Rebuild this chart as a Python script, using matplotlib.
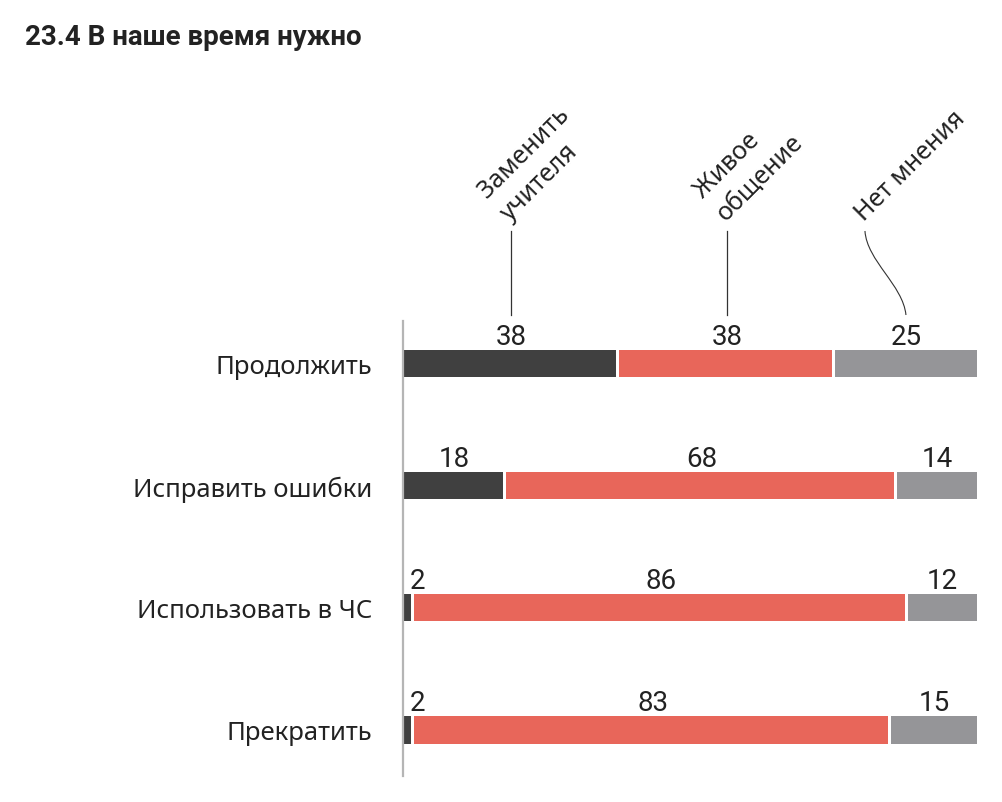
import matplotlib.pyplot as plt
import numpy as np
from matplotlib.path import Path
from matplotlib.patches import PathPatch
from matplotlib.transforms import blended_transform_factory

# data
rows = ["Продолжить", "Исправить ошибки", "Использовать в ЧС", "Прекратить"]
series = ["Заменить\nучителя", "Живое\nобщение", "Нет мнения"]
zamenit = [38, 18, 2, 2]
zhivoe = [38, 68, 86, 83]
net = [25, 14, 12, 15]
colors = ["#404040", "#e8665a", "#959598"]

title = "23.4 В наше время нужно"

W, H = 1003, 803
fig = plt.figure(figsize=(W / 100, H / 100), dpi=100)
# axes box in pixels: x 403..977, y 322..777
ax = fig.add_axes([403 / W, 1 - 777 / H, (977 - 403) / W, (777 - 322) / H])

label_font = ["Noto Sans", "DejaVu Sans"]
num_font = ["Roboto", "DejaVu Sans"]

vals = np.array([zamenit, zhivoe, net], dtype=float)
fracs = vals / vals.sum(axis=0)
y = np.arange(len(rows))
bar_h = 27 / 122
gap = 3 / 574

left = np.zeros(len(rows))
for k in range(len(series)):
    w = fracs[k]
    ax.barh(y, w - gap * (k < len(series) - 1), left=left, height=bar_h,
            color=colors[k], linewidth=0)
    for i in range(len(rows)):
        v = int(vals[k, i])
        if w[i] < 0.05:
            ax.text(left[i] + 0.011, y[i] - bar_h / 2 - 0.05, str(v),
                    ha="left", va="baseline", fontsize=20,
                    family=num_font, color="#222222")
        else:
            ax.text(left[i] + w[i] / 2, y[i] - bar_h / 2 - 0.05, str(v),
                    ha="center", va="baseline", fontsize=20,
                    family=num_font, color="#222222")
    left = left + w

ax.set_xlim(0, 1)
ax.set_ylim(3.377, -0.352)
ax.set_yticks(y)
ax.set_yticklabels(rows, family=label_font, fontsize=18.5, color="#222222")
ax.tick_params(axis="y", length=0, pad=22)
ax.set_xticks([])
for s in ["top", "right", "bottom"]:
    ax.spines[s].set_visible(False)
ax.spines["left"].set_color("#b5b5b5")
ax.spines["left"].set_linewidth(1.6)

# column headers with leader lines, placed over the first row
tr = blended_transform_factory(ax.transData, ax.transAxes)
py = lambda p: (777 - p) / 455
centers = np.cumsum(fracs[:, 0]) - fracs[:, 0] / 2
for k, name in enumerate(series):
    cx = centers[k]
    if k < 2:
        top_x = cx
        ax.plot([cx, cx], [py(232), py(316)], color="#333333", lw=0.9,
                transform=tr, clip_on=False)
    else:
        top_x = cx - 41 / 574
        verts = [(top_x, py(232)), (top_x + 2 / 574, py(262)),
                 (cx - 3 / 574, py(286)), (cx, py(316))]
        codes = [Path.MOVETO, Path.CURVE4, Path.CURVE4, Path.CURVE4]
        ax.add_patch(PathPatch(Path(verts, codes), fill=False, ec="#333333",
                               lw=0.8, transform=tr, clip_on=False))
    ax.text(top_x + 3 / 574, py(226), name, rotation=45, rotation_mode="anchor",
            ha="left", va="bottom", fontsize=18, family=label_font,
            color="#222222", transform=tr, linespacing=1.35)

fig.text(25 / W, 1 - 45 / H, title, fontsize=20, fontweight="bold",
         family=["Roboto", "DejaVu Sans"], color="#222222", va="baseline")

fig.savefig("out.png", dpi=100, facecolor="white")
